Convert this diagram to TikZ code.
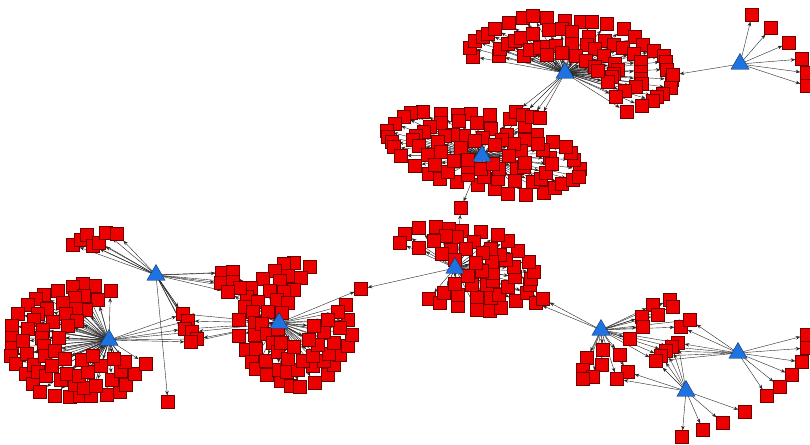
\documentclass[tikz,border=0pt]{standalone}
\usetikzlibrary{shapes.geometric,arrows.meta,backgrounds}
\definecolor{sqred}{RGB}{236,0,0}
\definecolor{sqedge}{RGB}{110,0,0}
\definecolor{hubblue}{RGB}{30,115,225}
\definecolor{hubedge}{RGB}{20,50,110}
\pgfdeclarelayer{front}
\pgfsetlayers{background,main,front}
\tikzset{
 sq/.style={rectangle, draw=sqedge, fill=sqred, line width=0.4pt, minimum size=13pt, inner sep=0pt},
 hubnode/.style={regular polygon, regular polygon sides=3, draw=hubedge, fill=hubblue, line width=0.4pt, minimum size=21pt, inner sep=0pt},
 link/.style={-{Stealth[length=4.5pt,width=3.5pt]}, line width=0.4pt, draw=black!85},
}
\newcommand\ringnodes[7]{%
 \foreach \rs/\ra/\rb/\rn [count=\rk] in #7 {%
  \foreach \rj in {1,...,\rn} {%
   \pgfmathsetmacro\myang{\ra+(\rb-\ra)*(\rj-0.5)/\rn}%
   \pgfmathsetmacro\myu{\rs*#4*cos(\myang)}%
   \pgfmathsetmacro\myv{\rs*#5*sin(\myang)}%
   \pgfmathsetmacro\myx{#2+\myu*cos(#6)-\myv*sin(#6)+2.5*sin(97*\rj+53*\rk)}%
   \pgfmathsetmacro\myy{#3-(\myu*sin(#6)+\myv*cos(#6))+2.5*cos(61*\rj+29*\rk)}%
   \node[sq] (#1-\rk-\rj) at (\myx,\myy) {};
  }%
 }%
}
\newcommand\ringlinks[2]{%
 \foreach \rs/\ra/\rb/\rn [count=\rk] in #2 {%
  \foreach \rj in {1,...,\rn} {%
   \draw[link] (#1.center) -- (#1-\rk-\rj);
  }%
 }%
}
\def\specA{1/190/-55/28, 0.72/188/-52/21, 0.46/183/-45/14, 0.26/170/-30/6}
\def\specC{1/0/360/34, 0.72/8/368/25, 0.46/16/376/16, 0.25/30/390/6}
\def\specD{1/-120/165/22, 0.72/-112/158/16, 0.46/-105/150/10, 0.26/-90/140/4}
\def\specF{1/60/340/26, 0.78/63/337/20, 0.56/68/332/14, 0.34/75/320/7}
\def\specG{1/70/385/25, 0.78/73/382/19, 0.56/78/377/14, 0.34/85/370/7}
\begin{document}
\begin{tikzpicture}[x=1pt,y=-1pt]
\useasboundingbox (0,0) rectangle (810,444);

% hubs
\begin{pgfonlayer}{front}
\node[hubnode] (h1) at (565,73) {};
\node[hubnode] (h2) at (740,64) {};
\node[hubnode] (h3) at (482,156) {};
\node[hubnode] (h4) at (455,268) {};
\node[hubnode] (h5) at (156,275) {};
\node[hubnode] (h6) at (109,340) {};
\node[hubnode] (h7) at (279,323) {};
\node[hubnode] (h8) at (601,330) {};
\node[hubnode] (h9) at (738,353) {};
\node[hubnode] (h10) at (686,391) {};
\end{pgfonlayer}

% big clusters
\ringnodes{h1}{571}{66}{100}{47}{-8}{\specA}
\ringnodes{h3}{483}{152}{97}{36}{-12}{\specC}
\ringnodes{h4}{462}{268}{72}{40}{-10}{\specD}
\ringnodes{h6}{80}{342}{70}{56}{0}{\specF}
\ringnodes{h7}{295}{325}{55}{60}{0}{\specG}

% single squares
\foreach \nm/\px/\py in {
 b1/673/75, b2/752/15, b3/771/28, b4/789/43, b5/802/59, b6/807/73, b7/807/86,
 c1/516/112, c2/523/115, c3/532/117, c4/540/118,
 d1/461/208, e1/361/289, f1/536/303, f2/543/299,
 g1/73/245, g2/81/240, g3/87/235, g4/93/246, g5/99/243, g6/106/233, g7/117/234,
 k1/222/273, k2/233/272, k3/221/283, k4/233/282, k5/240/288, k6/228/292,
 m1/183/314, m2/188/321, m3/185/329, m4/192/332, m5/197/339, m6/191/342,
 n1/168/402,
 p1/653/305, p2/670/300, p3/673/307, p4/658/315, p5/642/317, p6/643/327, p7/630/339,
 q1/681/327, q2/690/320,
 r1/678/343, r2/672/347, r3/666/351, r4/661/356, r5/656/361,
 s1/587/358, s2/603/350, s3/620/355, s4/602/365, s5/583/370, s6/593/377, s7/583/379,
 t1/628/372, t2/617/379,
 u1/807/335, u2/807/348, u3/802/362, u4/792/375, u5/780/387, u6/767/396,
 v1/682/437, v2/703/430, v3/723/423, v4/745/412}
 \node[sq] (\nm) at (\px,\py) {};

\begin{pgfonlayer}{background}
\fill[white] (0,0) rectangle (810,444);
\ringlinks{h1}{\specA}
\ringlinks{h3}{\specC}
\ringlinks{h4}{\specD}
\ringlinks{h6}{\specF}
\ringlinks{h7}{\specG}
\foreach \hb/\tg in {
 h2/b1, h2/b2, h2/b3, h2/b4, h2/b5, h2/b6, h2/b7,
 h1/c1, h1/c2, h1/c3, h1/c4, h3/c1, h3/c2, h3/c3, h3/c4,
 h3/d1, h4/d1, h4/e1, h7/e1, h4/f1, h4/f2, h8/f1, h8/f2,
 h5/g1, h5/g2, h5/g3, h5/g4, h5/g5, h5/g6, h5/g7,
 h5/k1, h5/k2, h5/k3, h5/k4, h5/k5, h5/k6,
 h7/k1, h7/k2, h7/k3, h7/k4, h7/k5, h7/k6,
 h5/m1, h5/m2, h5/m3, h5/m4, h5/m5, h5/m6,
 h6/m1, h6/m2, h6/m3, h6/m4, h6/m5, h6/m6,
 h7/m1, h7/m2, h7/m3, h7/m4, h7/m5, h7/m6,
 h5/n1,
 h8/p1, h8/p2, h8/p3, h8/p4, h8/p5, h8/p6, h8/p7,
 h8/q1, h8/q2, h9/q1, h9/q2,
 h8/r1, h8/r2, h8/r3, h8/r4, h8/r5,
 h9/r1, h9/r2, h9/r3, h9/r4, h9/r5,
 h10/r1, h10/r2, h10/r3, h10/r4, h10/r5,
 h8/s1, h8/s2, h8/s3, h8/s4, h8/s5, h8/s6, h8/s7,
 h8/t1, h8/t2, h10/t1, h10/t2,
 h9/u1, h9/u2, h9/u3, h9/u4, h9/u5, h9/u6,
 h10/v1, h10/v2, h10/v3, h10/v4}
 \draw[link] (\hb.center) -- (\tg);
\end{pgfonlayer}
\end{tikzpicture}
\end{document}
